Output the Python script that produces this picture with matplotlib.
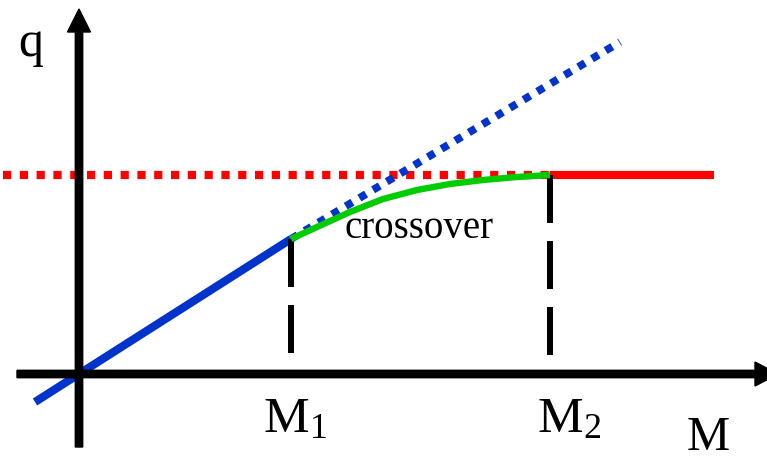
import numpy as np
import matplotlib.pyplot as plt

plt.rcParams['font.family'] = ['Liberation Serif', 'DejaVu Serif']
plt.rcParams['mathtext.fontset'] = 'custom'
plt.rcParams['mathtext.rm'] = 'Liberation Serif'
plt.rcParams['mathtext.it'] = 'Liberation Serif:italic'

# crossover points on the M axis
M1 = 2.12
M2 = 4.71
q_sat = 1.99

# linear regime (solid) and its continuation (dotted)
lin_M = [-0.44, M1]
lin_q = [-0.28, 1.35]
ext_M = [M1, 5.41]
ext_q = [1.35, 3.32]

# saturated regime: dotted extension and solid part
sat_dot_M = [-0.76, M2]
sat_M = [M2, 6.35]

# crossover curve read along its length
cross_M = [2.12, 2.38, 2.71, 3.04, 3.38, 3.71, 4.04, 4.38, 4.71]
cross_q = [1.35, 1.47, 1.62, 1.75, 1.84, 1.90, 1.94, 1.97, 1.99]

# axes extents
x_axis = (-0.62, 6.99)
y_axis = (-0.73, 3.65)

fig = plt.figure(figsize=(7.67, 4.59), dpi=100)
ax = fig.add_axes([0, 0, 1, 1])
ax.set_xlim(-0.79, 6.88)
ax.set_ylim(-0.85, 3.74)
ax.axis('off')

blue = '#0033cc'
red = '#ff0000'
green = '#00cc00'

ax.plot(sat_dot_M, [q_sat, q_sat], color=red, lw=5.9, dashes=(1, 1.05),
        dash_capstyle='butt', zorder=2)
ax.plot(sat_M, [q_sat, q_sat], color=red, lw=5.9, solid_capstyle='butt', zorder=2)

ax.plot(ext_M, ext_q, color=blue, lw=5.6, dashes=(1, 1.05),
        dash_capstyle='butt', zorder=3)
ax.plot(lin_M, lin_q, color=blue, lw=5.9, solid_capstyle='butt', zorder=3)

# dashed guides down to the M axis
ax.plot([M1, M1], [lin_q[1], 0], color='black', lw=4.32, dashes=(8, 3),
        dash_capstyle='butt', zorder=4)
ax.plot([M2, M2], [q_sat, 0], color='black', lw=4.32, dashes=(8, 3),
        dash_capstyle='butt', zorder=4)

ax.plot(cross_M, cross_q, color=green, lw=4.6, solid_capstyle='butt',
        solid_joinstyle='round', zorder=5)

# axes with arrow heads
ax.arrow(x_axis[0], 0, x_axis[1] - x_axis[0], 0, width=0.074,
         head_width=0.24, head_length=0.23, length_includes_head=True,
         color='black', zorder=6)
ax.arrow(0, y_axis[0], 0, y_axis[1] - y_axis[0], width=0.074,
         head_width=0.23, head_length=0.23, length_includes_head=True,
         color='black', zorder=6)

ax.text(-0.61, 3.18, 'q', fontsize=36, ha='left', va='baseline')
ax.text(6.29, -0.76, 'M', fontsize=35, ha='center', va='baseline')
ax.text(1.84, -0.58, r'$\mathrm{M}_1$', fontsize=37, ha='left', va='baseline')
ax.text(4.58, -0.58, r'$\mathrm{M}_2$', fontsize=37, ha='left', va='baseline')
ax.text(2.66, 1.36, 'crossover', fontsize=28, ha='left', va='baseline')

fig.savefig('out.png', dpi=100)
